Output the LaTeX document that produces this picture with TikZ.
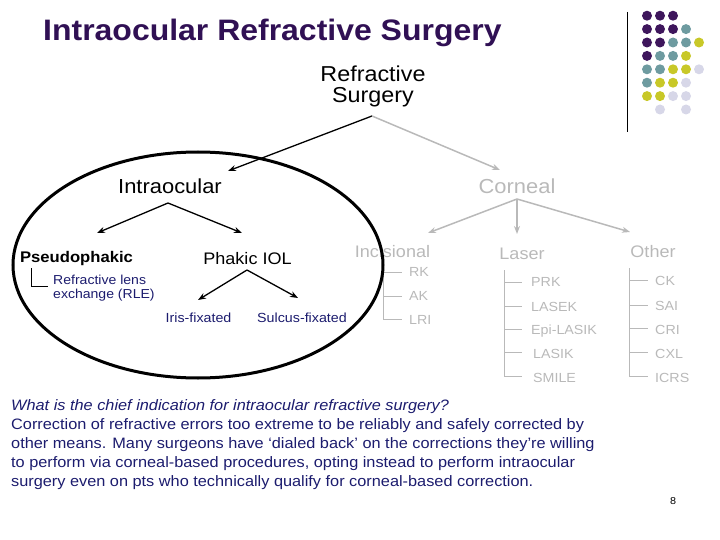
\documentclass[tikz,border=0pt]{standalone}
\usepackage{fontspec}
\setmainfont{Liberation Sans}[FakeStretch=1.08]
\usetikzlibrary{arrows.meta}
\definecolor{titlec}{RGB}{48,16,84}
\definecolor{navy}{RGB}{28,28,110}
\definecolor{lgray}{RGB}{185,185,185}
\definecolor{dpurp}{RGB}{62,22,92}
\definecolor{dteal}{RGB}{110,155,160}
\definecolor{dyel}{RGB}{200,200,40}
\definecolor{dlav}{RGB}{215,215,232}
\newcommand\myfs[1]{\fontsize{#1}{#1}\selectfont}
\begin{document}
\begin{tikzpicture}[x=1pt,y=-1pt,
  txt/.style={inner sep=0pt, anchor=base},
  lbl/.style={inner sep=0pt, anchor=base west},
  big/.style={font=\myfs{20.3}},
  mid/.style={font=\myfs{16.7}},
  sml/.style={font=\myfs{13.2}},
  blkarrow/.style={line width=1.3pt, -{Stealth[length=8pt,width=6pt]}},
  grayarrow/.style={line width=1.5pt, draw=lgray, -{Stealth[length=8pt,width=6pt]}},
  glines/.style={draw=lgray, line width=0.8pt},
  dot/.style={radius=5pt}
]
\useasboundingbox (0,0) rectangle (720,540);

% decoration
\draw[line width=1pt] (627,12) -- (627,132);
\foreach \c/\x/\y in {dpurp/0/0,dpurp/1/0,dpurp/2/0,
  dpurp/0/1,dpurp/1/1,dpurp/2/1,dteal/3/1,
  dpurp/0/2,dpurp/1/2,dteal/2/2,dteal/3/2,dyel/4/2,
  dpurp/0/3,dteal/1/3,dteal/2/3,dyel/3/3,
  dteal/0/4,dteal/1/4,dyel/2/4,dyel/3/4,dlav/4/4,
  dteal/0/5,dyel/1/5,dyel/2/5,dlav/3/5,
  dyel/0/6,dyel/1/6,dlav/2/6,dlav/3/6,
  dlav/1/7,dlav/3/7}
  \fill[\c] ({647+13*\x},{15.7+13.4*\y}) circle [dot];

% title
\node[lbl, text=titlec, font=\myfs{29.6}\bfseries] (title) at (43,41) {Intraocular Refractive Surgery};

% top
\node[txt, font=\fontsize{21.6}{21}\selectfont, align=center] (rs) at (373,102.7) {Refractive\\Surgery};
\coordinate (rsB) at (372,116);

\node[txt, big] (io) at (170,194) {Intraocular};
\node[txt, big, text=lgray] (co) at (517,194) {Corneal};
\coordinate (ioT) at (228,171);
\coordinate (coT) at (500,170);
\draw[blkarrow] (rsB) -- (ioT);
\draw[grayarrow] (rsB) -- (coT);

% intraocular branch
\node[txt, font=\myfs{15.4}\bfseries] (ps) at (76.5,262) {Pseudophakic};
\node[txt, mid] (ph) at (247.5,264) {Phakic IOL};
\coordinate (ioB) at (168,203);
\coordinate (psT) at (97,233);
\coordinate (phT) at (242,233);
\draw[blkarrow] (ioB) -- (psT);
\draw[blkarrow] (ioB) -- (phT);

\node[lbl, font=\fontsize{13}{14}\selectfont, text=navy, align=left] (rle) at (53,298) {Refractive lens\\exchange (RLE)};
\coordinate (psB) at (31,268);
\coordinate (rleL) at (48,286);
\draw[line width=0.8pt] (psB) |- (rleL);

\node[txt, sml, text=navy] (iris) at (198.5,322) {Iris-fixated};
\node[txt, sml, text=navy] (sul) at (302,322) {Sulcus-fixated};
\coordinate (phB) at (247,270);
\coordinate (irT) at (198,300);
\coordinate (suT) at (298,298);
\draw[blkarrow] (phB) -- (irT);
\draw[blkarrow] (phB) -- (suT);

% corneal branch
\node[txt, mid, text=lgray] (inc) at (392.5,258) {Incisional};
\node[txt, mid, text=lgray] (las) at (522,259) {Laser};
\node[txt, mid, text=lgray] (oth) at (653,258) {Other};
\coordinate (coB) at (517,199);
\coordinate (incT) at (428,233);
\coordinate (lasT) at (517,234);
\coordinate (othT) at (630,232);
\draw[grayarrow] (coB) -- (incT);
\draw[grayarrow] (coB) -- (lasT);
\draw[grayarrow] (coB) -- (othT);

% incisional list
\foreach \t/\y/\n in {RK/276.7/rk, AK/300.7/ak, LRI/324.3/lri}
  \node[lbl, sml, text=lgray] (\n) at (409,\y) {\t};
\coordinate (incB) at (383,266);
\draw[glines] (incB) |- (402,319.3);
\foreach \y in {272.3,296}
  \draw[glines] (383,\y) -- (402,\y);

% laser list
\node[lbl, sml, text=lgray] (prk) at (531,286.7) {PRK};
\node[lbl, sml, text=lgray] (lasek) at (531,311) {LASEK};
\node[lbl, sml, text=lgray] (epi) at (531,334) {Epi-LASIK};
\node[lbl, sml, text=lgray] (lasik) at (533,358) {LASIK};
\node[lbl, sml, text=lgray] (smile) at (533,382) {SMILE};
\coordinate (lasB) at (504,270);
\draw[glines] (lasB) |- (522,376.7);
\foreach \y in {282.3,306,329.3,352.7}
  \draw[glines] (504,\y) -- (522,\y);

% other list
\node[lbl, sml, text=lgray] (ck) at (655,285.7) {CK};
\node[lbl, sml, text=lgray] (sai) at (655,310) {SAI};
\node[lbl, sml, text=lgray] (cri) at (655,334) {CRI};
\node[lbl, sml, text=lgray] (cxl) at (655,358) {CXL};
\node[lbl, sml, text=lgray] (icrs) at (655,382) {ICRS};
\coordinate (othB) at (629,268);
\draw[glines] (othB) |- (648,376.7);
\foreach \y in {280.7,305,328,352.7}
  \draw[glines] (629,\y) -- (648,\y);

% ellipse
\draw[line width=3pt] (198,265) ellipse [x radius=185pt, y radius=113pt];

% bottom text
\node[lbl, font=\fontsize{15.1}{19}\selectfont, text=navy, align=left] (body) at (11,486)
 {\textit{What is the chief indication for intraocular refractive surgery?}\\
  Correction of refractive errors too extreme to be reliably and safely corrected by\\
  other means. Many surgeons have `dialed back' on the corrections they're willing\\
  to perform via corneal-based procedures, opting instead to perform intraocular\\
  surgery even on pts who technically qualify for corneal-based correction.};

\node[txt, font=\myfs{10}] (pg) at (673,504) {8};
\end{tikzpicture}
\end{document}
